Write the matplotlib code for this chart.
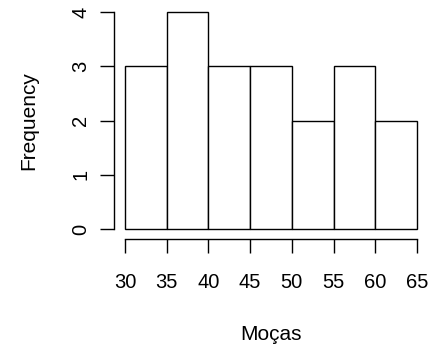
import matplotlib
matplotlib.use('Agg')
import matplotlib.pyplot as plt
import numpy as np

# histogram data
bin_edges = [30, 35, 40, 45, 50, 55, 60, 65]
counts    = [3, 4, 3, 3, 2, 3, 2]
x_ticks   = [30, 35, 40, 45, 50, 55, 60, 65]
y_ticks   = [0, 1, 2, 3, 4]

plt.rcParams['font.family'] = ['Liberation Sans', 'DejaVu Sans']

W, H = 431, 346
fig = plt.figure(figsize=(W / 100, H / 100), dpi=100)
ax = fig.add_axes([125 / W, 1 - 229 / H, (417 - 125) / W, (229 - 12) / H])

ax.bar(bin_edges[:-1], counts, width=np.diff(bin_edges), align='edge',
       facecolor='white', edgecolor='black', linewidth=1.0, clip_on=False)

ax.set_xlim(30, 65)
ax.set_ylim(0, 4)
ax.set_xticks(x_ticks)
ax.set_yticks(y_ticks)

for s in ['top', 'right']:
    ax.spines[s].set_visible(False)
ax.spines['left'].set_position(('outward', 8))
ax.spines['bottom'].set_position(('outward', 7.2))
ax.spines['left'].set_bounds(0, 4)
ax.spines['bottom'].set_bounds(30, 65)
for s in ['left', 'bottom']:
    ax.spines[s].set_linewidth(1.0)

ax.tick_params(axis='both', direction='out', length=10, width=1.0,
               labelsize=14.5, colors='black')
ax.tick_params(axis='x', pad=14.5)
ax.tick_params(axis='y', pad=7)
plt.setp(ax.get_yticklabels(), rotation=90, va='center')

ax.set_xlabel('Moças', fontsize=15, labelpad=24)
ax.set_ylabel('Frequency', fontsize=15, labelpad=24)
ax.set_facecolor('white')

fig.savefig('out.png', dpi=100, facecolor='white')
